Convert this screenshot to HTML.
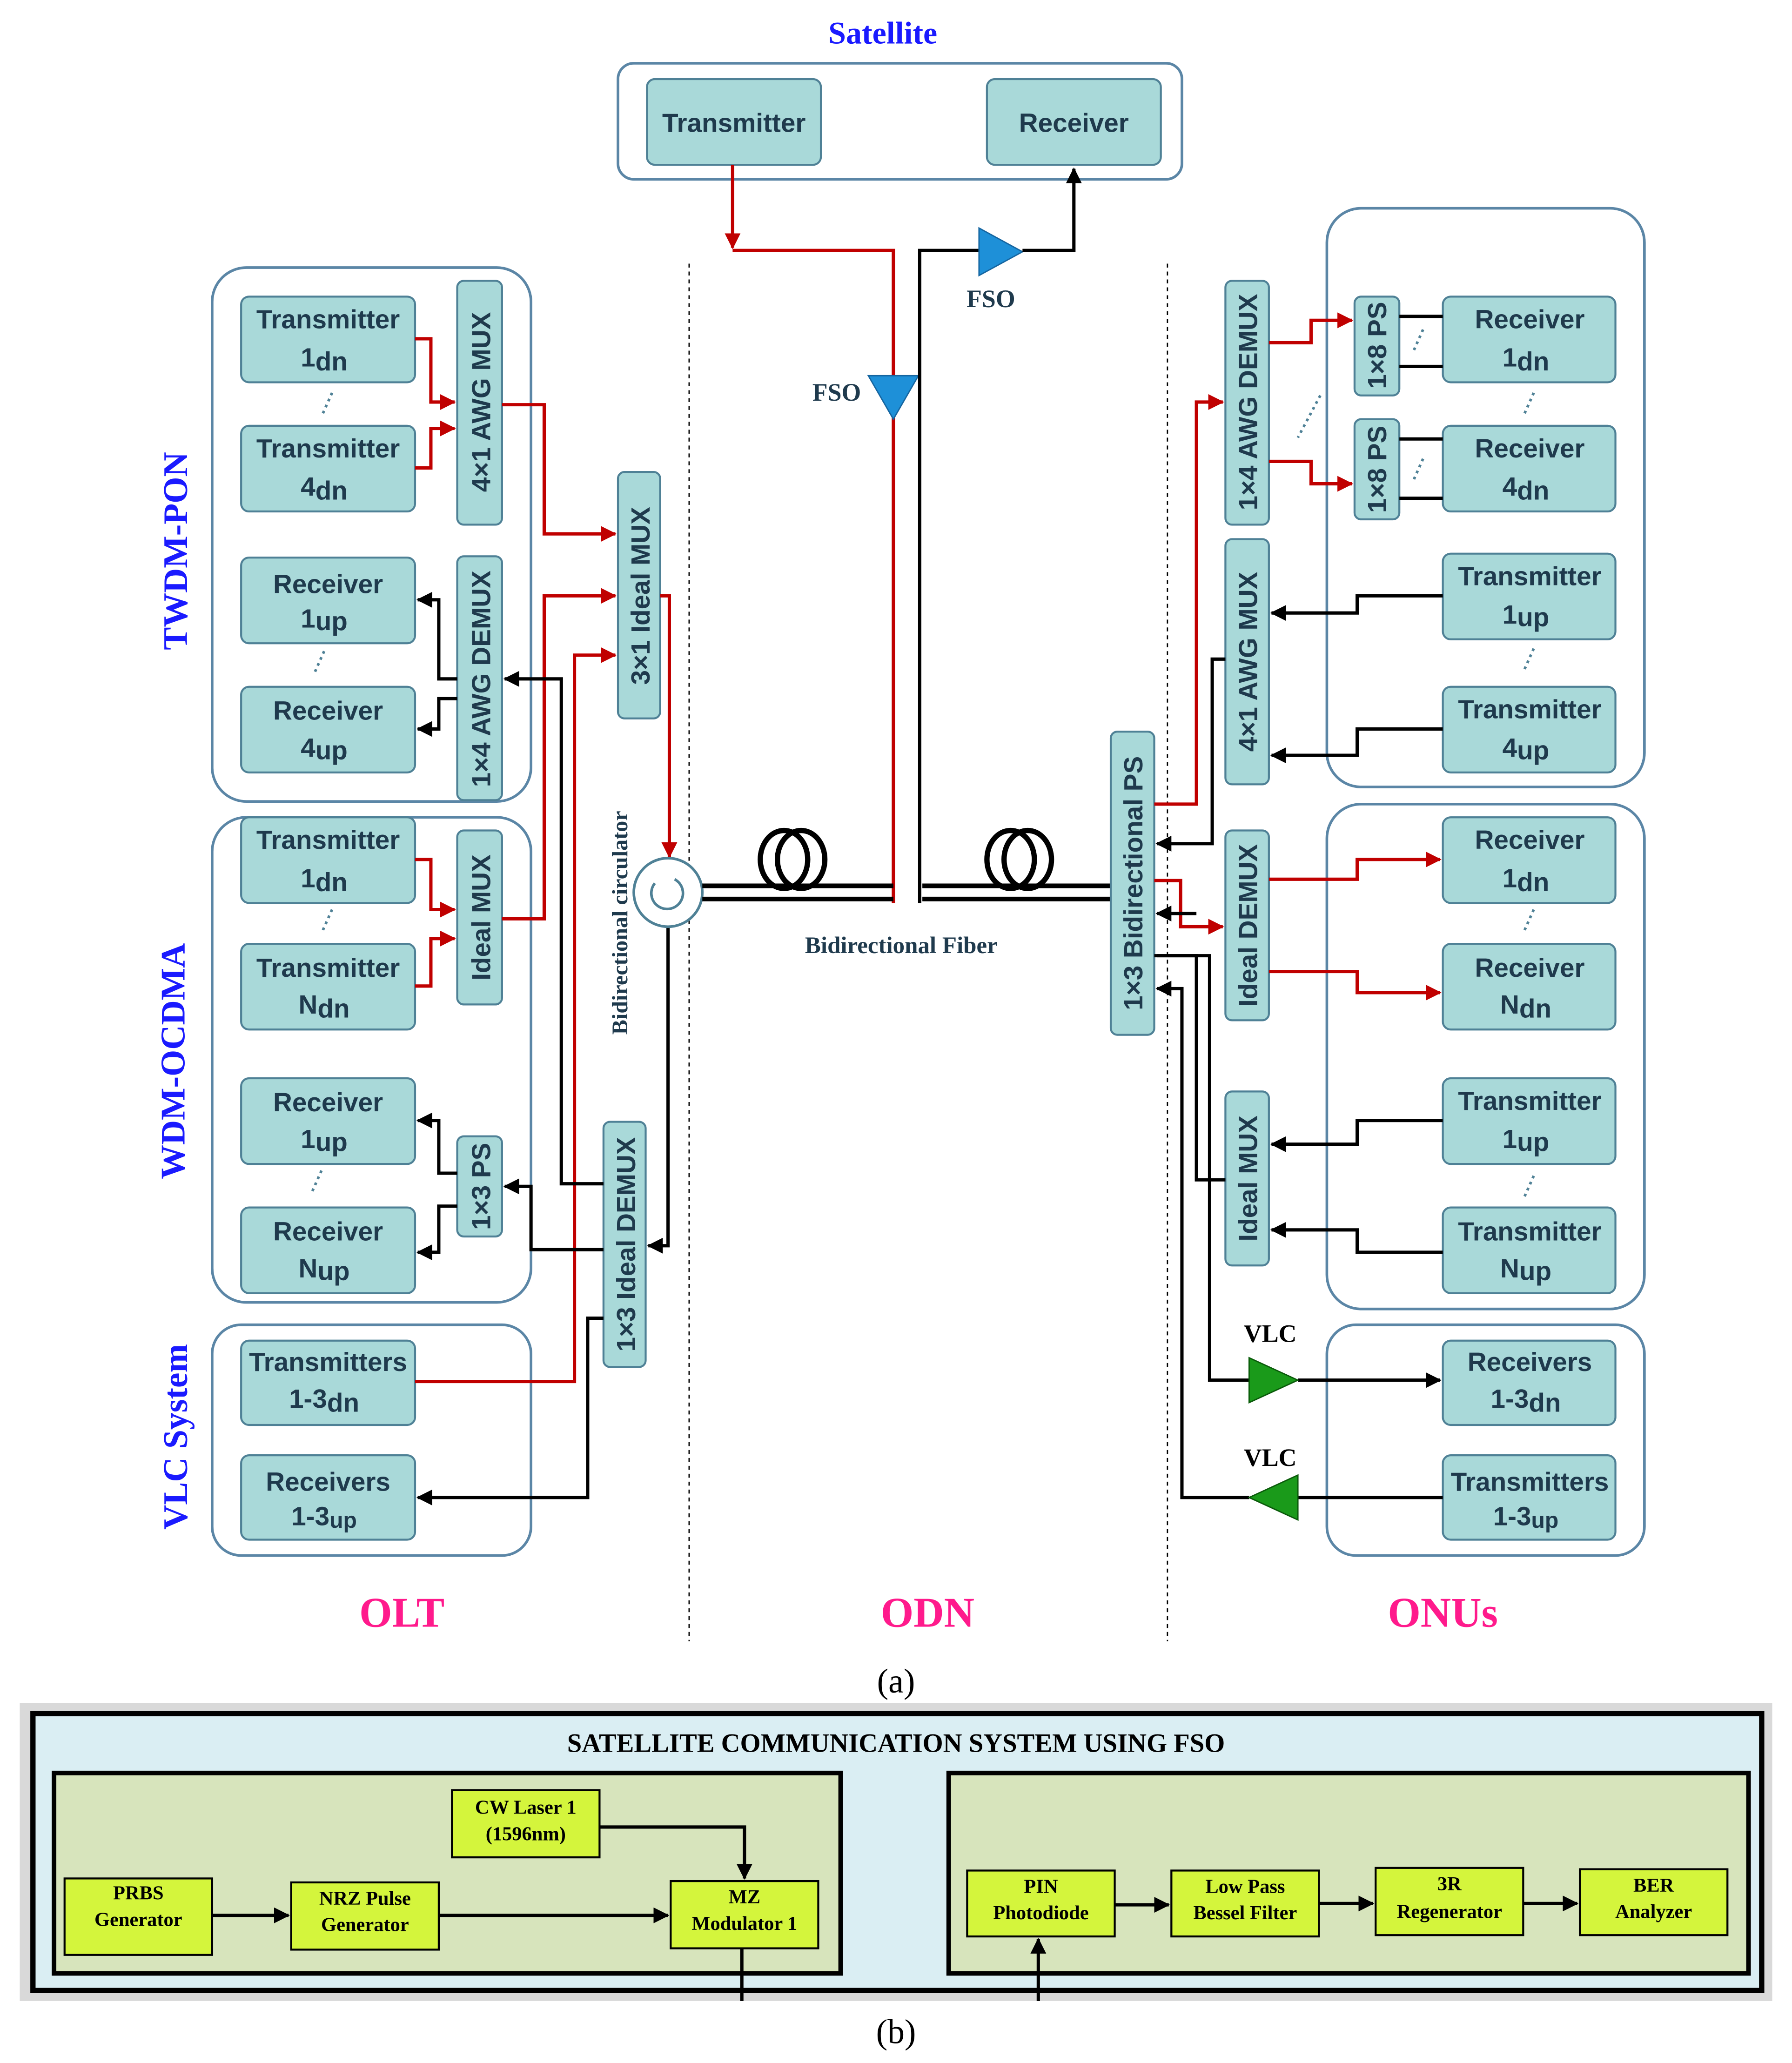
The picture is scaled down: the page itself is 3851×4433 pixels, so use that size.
<!DOCTYPE html>
<html><head><meta charset="utf-8"><style>
html,body{margin:0;padding:0;background:#fff}
svg{display:block}
.b{fill:#a9d9d9;stroke:#4f8196;stroke-width:1.5}
.g{fill:none;stroke:#5b86a6;stroke-width:2}
.t{font-family:"Liberation Sans",sans-serif;font-weight:bold;font-size:20px;fill:#1f3a4d;text-anchor:middle}
.r{fill:none;stroke:#c00000;stroke-width:2.5}
.k{fill:none;stroke:#000;stroke-width:2.5}
.s{font-family:"Liberation Serif",serif;font-weight:bold}
.y{fill:#d4f53c;stroke:#000;stroke-width:1.5}
.yt{font-family:"Liberation Serif",serif;font-weight:bold;font-size:15px;text-anchor:middle}
.d{fill:none;stroke:#4f8196;stroke-width:2;stroke-dasharray:2 3}
</style></head><body>
<svg width="3851" height="4433" viewBox="0 0 1360 1565" preserveAspectRatio="none" xmlns="http://www.w3.org/2000/svg">
<defs>
<marker id="ar" markerWidth="12" markerHeight="12" refX="11" refY="6" orient="auto" markerUnits="userSpaceOnUse"><path d="M0,0 L12,6 L0,12 z" fill="#c00000"/></marker>
<marker id="ak" markerWidth="12" markerHeight="12" refX="11" refY="6" orient="auto" markerUnits="userSpaceOnUse"><path d="M0,0 L12,6 L0,12 z" fill="#000"/></marker>
<marker id="ak2" markerWidth="12" markerHeight="12" refX="11" refY="6" orient="auto" markerUnits="userSpaceOnUse"><path d="M0,0 L12,6 L0,12 z" fill="#000"/></marker>
</defs>
<style>.r{marker-end:url(#ar)}.k{marker-end:url(#ak)}.nm{marker-end:none}</style>

<text x="670" y="33" class="s" font-size="24" fill="#1a1aff" text-anchor="middle">Satellite</text>
<rect x="469" y="48" width="428" height="88" rx="12" class="g"/>
<rect x="491" y="60" width="132" height="65" rx="6" class="b"/><text x="557" y="100" class="t">Transmitter</text>
<rect x="749" y="60" width="132" height="65" rx="6" class="b"/><text x="815" y="100" class="t">Receiver</text>
<polyline points="556,125 556,188" class="r"/>
<polyline points="556,190 678,190 678,685" class="r nm"/>
<polygon points="659,285 697,285 678,318" fill="#1e90d8" stroke="#1565a0"/>
<text x="635" y="304" class="s" font-size="19" fill="#1f3a4d" text-anchor="middle">FSO</text>
<polyline points="698,685 698,190 745,190" class="k nm"/>
<polygon points="743,173 743,209 776,191" fill="#1e90d8" stroke="#1565a0"/>
<polyline points="776,190 815,190 815,128" class="k"/>
<text x="752" y="233" class="s" font-size="19" fill="#1f3a4d" text-anchor="middle">FSO</text>

<line x1="523" y1="200" x2="523" y2="1245" stroke="#000" stroke-dasharray="3 3"/>
<line x1="886" y1="200" x2="886" y2="1245" stroke="#000" stroke-dasharray="3 3"/>

<rect x="161" y="203" width="242" height="405" rx="26" class="g"/>
<rect x="161" y="620" width="242" height="368" rx="26" class="g"/>
<rect x="161" y="1005" width="242" height="175" rx="22" class="g"/>
<text transform="translate(142,418) rotate(-90)" class="s" font-size="26" fill="#1a1aff" text-anchor="middle">TWDM-PON</text>
<text transform="translate(140,805) rotate(-90)" class="s" font-size="26" fill="#1a1aff" text-anchor="middle">WDM-OCDMA</text>
<text transform="translate(142,1090) rotate(-90)" class="s" font-size="26" fill="#1a1aff" text-anchor="middle">VLC System</text>

<g>
<rect x="183" y="225" width="132" height="65" rx="6" class="b"/><text x="249" y="249" class="t">Transmitter</text><text x="246" y="278" class="t">1<tspan dy="3">dn</tspan></text>
<rect x="183" y="323" width="132" height="65" rx="6" class="b"/><text x="249" y="347" class="t">Transmitter</text><text x="246" y="376" class="t">4<tspan dy="3">dn</tspan></text>
<rect x="183" y="423" width="132" height="65" rx="6" class="b"/><text x="249" y="450" class="t">Receiver</text><text x="246" y="476" class="t">1<tspan dy="2">up</tspan></text>
<rect x="183" y="521" width="132" height="65" rx="6" class="b"/><text x="249" y="546" class="t">Receiver</text><text x="246" y="574" class="t">4<tspan dy="2">up</tspan></text>
<rect x="183" y="620" width="132" height="65" rx="6" class="b"/><text x="249" y="644" class="t">Transmitter</text><text x="246" y="673" class="t">1<tspan dy="3">dn</tspan></text>
<rect x="183" y="716" width="132" height="65" rx="6" class="b"/><text x="249" y="741" class="t">Transmitter</text><text x="246" y="769" class="t">N<tspan dy="3">dn</tspan></text>
<rect x="183" y="818" width="132" height="65" rx="6" class="b"/><text x="249" y="843" class="t">Receiver</text><text x="246" y="871" class="t">1<tspan dy="2">up</tspan></text>
<rect x="183" y="916" width="132" height="65" rx="6" class="b"/><text x="249" y="941" class="t">Receiver</text><text x="246" y="969" class="t">N<tspan dy="2">up</tspan></text>
<rect x="183" y="1017" width="132" height="64" rx="6" class="b"/><text x="249" y="1040" class="t">Transmitters</text><text x="246" y="1068" class="t">1-3<tspan dy="3">dn</tspan></text>
<rect x="183" y="1104" width="132" height="64" rx="6" class="b"/><text x="249" y="1131" class="t">Receivers</text><text x="246" y="1157" class="t">1-3<tspan dy="2" font-size="17">up</tspan></text>
</g>
<g class="d"><line x1="252" y1="298" x2="244" y2="316"/><line x1="246" y1="494" x2="238" y2="512"/><line x1="252" y1="690" x2="244" y2="708"/><line x1="244" y1="888" x2="236" y2="906"/></g>

<rect x="347" y="213" width="34" height="185" rx="5" class="b"/><text transform="translate(372,305) rotate(-90)" class="t">4×1 AWG MUX</text>
<rect x="347" y="422" width="34" height="185" rx="5" class="b"/><text transform="translate(372,515) rotate(-90)" class="t">1×4 AWG DEMUX</text>
<rect x="347" y="630" width="34" height="132" rx="5" class="b"/><text transform="translate(372,696) rotate(-90)" class="t">Ideal MUX</text>
<rect x="347" y="862" width="34" height="76" rx="5" class="b"/><text transform="translate(372,900) rotate(-90)" class="t">1×3 PS</text>
<rect x="469" y="358" width="32" height="187" rx="5" class="b"/><text transform="translate(493,452) rotate(-90)" class="t">3×1 Ideal MUX</text>
<rect x="458" y="851" width="32" height="186" rx="5" class="b"/><text transform="translate(482,944) rotate(-90)" class="t">1×3 Ideal DEMUX</text>

<polyline points="315,257 327,257 327,305 345,305" class="r"/>
<polyline points="315,355 327,355 327,325 345,325" class="r"/>
<polyline points="315,652 327,652 327,690 345,690" class="r"/>
<polyline points="315,748 327,748 327,712 345,712" class="r"/>
<polyline points="381,307 413,307 413,405 467,405" class="r"/>
<polyline points="381,697 413,697 413,452 467,452" class="r"/>
<polyline points="315,1048 436,1048 436,497 467,497" class="r"/>
<polyline points="501,452 508,452 508,650" class="r"/>
<polyline points="347,515 333,515 333,455 317,455" class="k"/>
<polyline points="347,530 333,530 333,553 317,553" class="k"/>
<polyline points="347,890 333,890 333,850 317,850" class="k"/>
<polyline points="347,915 333,915 333,950 317,950" class="k"/>
<polyline points="458,898 426,898 426,515 383,515" class="k"/>
<polyline points="458,948 403,948 403,900 383,900" class="k"/>
<polyline points="458,1000 446,1000 446,1136 317,1136" class="k"/>
<polyline points="507,703 507,945 492,945" class="k"/>

<circle cx="507" cy="677" r="26" fill="#fff" stroke="#4f8196" stroke-width="2"/>
<path d="M497,670 A12,12 0 1 0 512,667" fill="none" stroke="#4f8196" stroke-width="2"/>
<text transform="translate(476,700) rotate(-90)" class="s" font-size="17" fill="#1f3a4d" text-anchor="middle">Bidirectional circulator</text>
<g stroke="#000" stroke-width="3.5"><line x1="533" y1="672" x2="678" y2="672"/><line x1="533" y1="682" x2="678" y2="682"/><line x1="700" y1="672" x2="843" y2="672"/><line x1="700" y1="682" x2="843" y2="682"/></g>
<g fill="none" stroke="#000" stroke-width="4"><ellipse cx="595" cy="652" rx="18" ry="22"/><ellipse cx="608" cy="652" rx="18" ry="22"/><ellipse cx="767" cy="652" rx="18" ry="22"/><ellipse cx="780" cy="652" rx="18" ry="22"/></g>
<text x="684" y="723" class="s" font-size="18" fill="#1f3a4d" text-anchor="middle">Bidirectional Fiber</text>

<rect x="843" y="555" width="33" height="230" rx="5" class="b"/><text transform="translate(867,670) rotate(-90)" class="t">1×3 Bidirectional PS</text>
<rect x="1007" y="158" width="241" height="439" rx="26" class="g"/>
<rect x="1007" y="610" width="241" height="383" rx="26" class="g"/>
<rect x="1007" y="1005" width="241" height="175" rx="22" class="g"/>
<rect x="930" y="213" width="33" height="185" rx="5" class="b"/><text transform="translate(954,305) rotate(-90)" class="t">1×4 AWG DEMUX</text>
<rect x="930" y="409" width="33" height="186" rx="5" class="b"/><text transform="translate(954,502) rotate(-90)" class="t">4×1 AWG MUX</text>
<rect x="930" y="630" width="33" height="144" rx="5" class="b"/><text transform="translate(954,702) rotate(-90)" class="t">Ideal DEMUX</text>
<rect x="930" y="828" width="33" height="132" rx="5" class="b"/><text transform="translate(954,894) rotate(-90)" class="t">Ideal MUX</text>
<rect x="1028" y="225" width="34" height="75" rx="5" class="b"/><text transform="translate(1052,262) rotate(-90)" class="t">1×8 PS</text>
<rect x="1028" y="318" width="34" height="76" rx="5" class="b"/><text transform="translate(1052,356) rotate(-90)" class="t">1×8 PS</text>
<g>
<rect x="1095" y="225" width="131" height="65" rx="6" class="b"/><text x="1161" y="249" class="t">Receiver</text><text x="1158" y="278" class="t">1<tspan dy="3">dn</tspan></text>
<rect x="1095" y="323" width="131" height="65" rx="6" class="b"/><text x="1161" y="347" class="t">Receiver</text><text x="1158" y="376" class="t">4<tspan dy="3">dn</tspan></text>
<rect x="1095" y="420" width="131" height="65" rx="6" class="b"/><text x="1161" y="444" class="t">Transmitter</text><text x="1158" y="473" class="t">1<tspan dy="2">up</tspan></text>
<rect x="1095" y="521" width="131" height="65" rx="6" class="b"/><text x="1161" y="545" class="t">Transmitter</text><text x="1158" y="574" class="t">4<tspan dy="2">up</tspan></text>
<rect x="1095" y="620" width="131" height="65" rx="6" class="b"/><text x="1161" y="644" class="t">Receiver</text><text x="1158" y="673" class="t">1<tspan dy="3">dn</tspan></text>
<rect x="1095" y="716" width="131" height="65" rx="6" class="b"/><text x="1161" y="741" class="t">Receiver</text><text x="1158" y="769" class="t">N<tspan dy="3">dn</tspan></text>
<rect x="1095" y="818" width="131" height="65" rx="6" class="b"/><text x="1161" y="842" class="t">Transmitter</text><text x="1158" y="871" class="t">1<tspan dy="2">up</tspan></text>
<rect x="1095" y="916" width="131" height="65" rx="6" class="b"/><text x="1161" y="941" class="t">Transmitter</text><text x="1158" y="969" class="t">N<tspan dy="2">up</tspan></text>
<rect x="1095" y="1017" width="131" height="64" rx="6" class="b"/><text x="1161" y="1040" class="t">Receivers</text><text x="1158" y="1068" class="t">1-3<tspan dy="3">dn</tspan></text>
<rect x="1095" y="1104" width="131" height="64" rx="6" class="b"/><text x="1161" y="1131" class="t">Transmitters</text><text x="1158" y="1157" class="t">1-3<tspan dy="2" font-size="17">up</tspan></text>
</g>
<g class="d"><line x1="1164" y1="298" x2="1156" y2="316"/><line x1="1164" y1="492" x2="1156" y2="510"/><line x1="1164" y1="690" x2="1156" y2="708"/><line x1="1164" y1="892" x2="1156" y2="910"/><line x1="1080" y1="250" x2="1072" y2="268"/><line x1="1080" y1="348" x2="1072" y2="366"/><line x1="1002" y1="300" x2="985" y2="332"/></g>

<polyline points="876,610 908,610 908,305 928,305" class="r"/>
<polyline points="876,668 896,668 896,703 928,703" class="r"/>
<polyline points="930,500 920,500 920,640 878,640" class="k"/>
<polyline points="930,895 908,895 908,725 878,725" class="k nm"/>
<polyline points="908,693 878,693" class="k"/>
<polyline points="948,1136 897,1136 897,750 878,750" class="k"/>
<polyline points="876,725 918,725 918,1047 948,1047" class="k nm"/>
<polyline points="985,1047 1093,1047" class="k"/>
<polyline points="1095,1136 985,1136" class="k nm"/>
<polygon points="948,1030 948,1064 985,1047" fill="#1a9a1a" stroke="#0a5a0a"/>
<polygon points="985,1119 985,1153 948,1136" fill="#1a9a1a" stroke="#0a5a0a"/>
<text x="964" y="1018" class="s" font-size="19" fill="#000" text-anchor="middle">VLC</text>
<text x="964" y="1112" class="s" font-size="19" fill="#000" text-anchor="middle">VLC</text>
<polyline points="963,260 995,260 995,243 1026,243" class="r"/>
<polyline points="963,350 995,350 995,367 1026,367" class="r"/>
<polyline points="1062,240 1095,240" class="k nm"/><polyline points="1062,278 1095,278" class="k nm"/>
<polyline points="1062,333 1095,333" class="k nm"/><polyline points="1062,378 1095,378" class="k nm"/>
<polyline points="1095,452 1030,452 1030,465 965,465" class="k"/>
<polyline points="1095,553 1030,553 1030,573 965,573" class="k"/>
<polyline points="963,667 1030,667 1030,652 1093,652" class="r"/>
<polyline points="963,737 1030,737 1030,753 1093,753" class="r"/>
<polyline points="1095,850 1030,850 1030,868 965,868" class="k"/>
<polyline points="1095,950 1030,950 1030,933 965,933" class="k"/>

<text x="305" y="1234" class="s" font-size="32" fill="#ff1a8c" text-anchor="middle">OLT</text>
<text x="704" y="1234" class="s" font-size="32" fill="#ff1a8c" text-anchor="middle">ODN</text>
<text x="1095" y="1234" class="s" font-size="32" fill="#ff1a8c" text-anchor="middle">ONUs</text>
<text x="680" y="1284" font-family="Liberation Serif,serif" font-size="26" text-anchor="middle">(a)</text>

<rect x="15" y="1292" width="1330" height="226" fill="#d9d9d9"/>
<rect x="25" y="1300" width="1312" height="210" fill="#daeef3" stroke="#000" stroke-width="4"/>
<text x="680" y="1329" class="s" font-size="20" text-anchor="middle">SATELLITE COMMUNICATION SYSTEM USING FSO</text>
<rect x="41" y="1345" width="597" height="152" fill="#d7e4bc" stroke="#000" stroke-width="3.5"/>
<rect x="720" y="1345" width="607" height="152" fill="#d7e4bc" stroke="#000" stroke-width="3.5"/>
<rect x="343" y="1358" width="112" height="51" class="y"/><text x="399" y="1376" class="yt">CW Laser 1</text><text x="399" y="1396" class="yt">(1596nm)</text>
<rect x="49" y="1425" width="112" height="58" class="y"/><text x="105" y="1441" class="yt">PRBS</text><text x="105" y="1461" class="yt">Generator</text>
<rect x="221" y="1428" width="112" height="51" class="y"/><text x="277" y="1445" class="yt">NRZ Pulse</text><text x="277" y="1465" class="yt">Generator</text>
<rect x="509" y="1427" width="112" height="51" class="y"/><text x="565" y="1444" class="yt">MZ</text><text x="565" y="1464" class="yt">Modulator 1</text>
<rect x="734" y="1419" width="112" height="50" class="y"/><text x="790" y="1436" class="yt">PIN</text><text x="790" y="1456" class="yt">Photodiode</text>
<rect x="889" y="1419" width="112" height="50" class="y"/><text x="945" y="1436" class="yt">Low Pass</text><text x="945" y="1456" class="yt">Bessel Filter</text>
<rect x="1044" y="1417" width="112" height="51" class="y"/><text x="1100" y="1434" class="yt">3R</text><text x="1100" y="1455" class="yt">Regenerator</text>
<rect x="1199" y="1418" width="112" height="50" class="y"/><text x="1255" y="1435" class="yt">BER</text><text x="1255" y="1455" class="yt">Analyzer</text>
<g fill="none" stroke="#000" stroke-width="2.5">
<polyline points="161,1453 219,1453" marker-end="url(#ak2)"/>
<polyline points="333,1453 507,1453" marker-end="url(#ak2)"/>
<polyline points="455,1386 565,1386 565,1425" marker-end="url(#ak2)"/>
<polyline points="563,1478 563,1518"/>
<polyline points="846,1445 887,1445" marker-end="url(#ak2)"/>
<polyline points="1001,1444 1042,1444" marker-end="url(#ak2)"/>
<polyline points="1156,1444 1197,1444" marker-end="url(#ak2)"/>
<polyline points="788,1518 788,1471" marker-end="url(#ak2)"/>
</g>
<text x="680" y="1550" font-family="Liberation Serif,serif" font-size="26" text-anchor="middle">(b)</text>
</svg>
</body></html>
